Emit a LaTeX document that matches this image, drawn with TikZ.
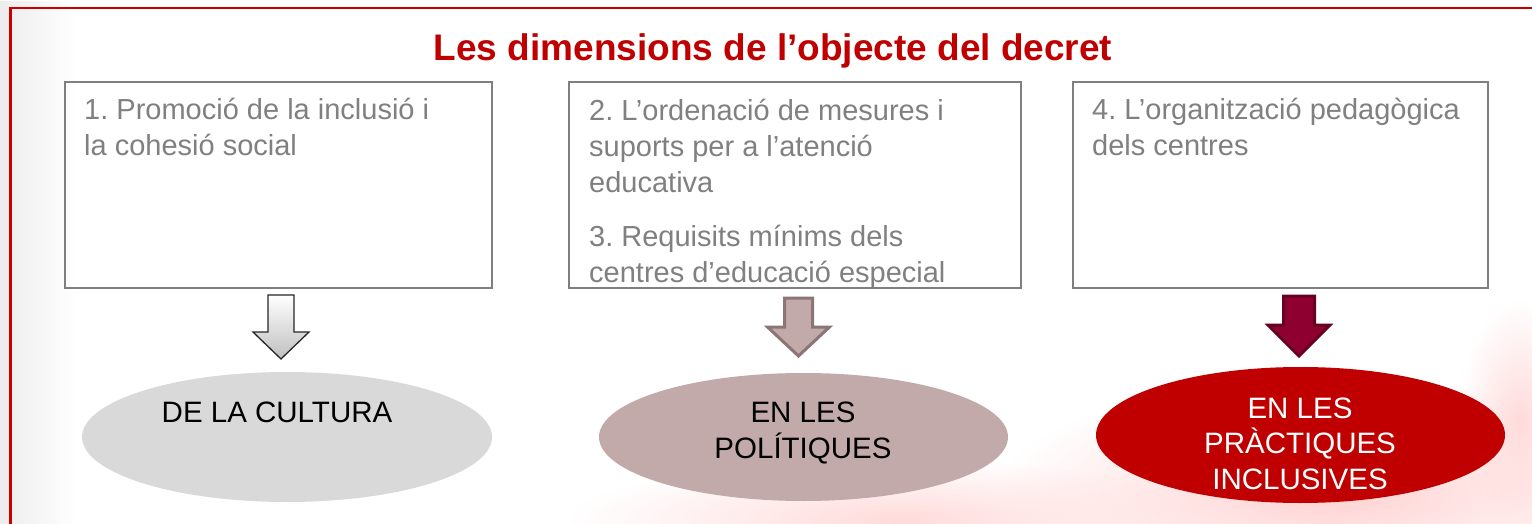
\documentclass[tikz,border=0pt]{standalone}
\usepackage{fontspec}
\setmainfont{Liberation Sans}
\usetikzlibrary{shapes.geometric,fadings}
\definecolor{tred}{HTML}{C00000}
\definecolor{framered}{HTML}{CC0000}
\definecolor{boxgray}{HTML}{7F7F7F}
\definecolor{txtgray}{HTML}{808080}
\definecolor{rose}{HTML}{C2A9AA}
\definecolor{rosedark}{HTML}{8C7576}
\definecolor{crim}{HTML}{8E0030}
\definecolor{crimdark}{HTML}{680022}
\definecolor{ellgray}{HTML}{D9D9D9}
\tikzfading[name=softout, inner color=transparent!0, outer color=transparent!100]
\newcommand\blockarrow[7]{%
  \path[#1] (#2-#4,#3) -- (#2+#4,#3) -- (#2+#4,#6) -- (#2+#5,#6) -- (#2,#7)
    -- (#2-#5,#6) -- (#2-#4,#6) -- cycle;}
\frenchspacing
\begin{document}
\begin{tikzpicture}[x=1pt,y=-1pt,
  dimbox/.style={draw=boxgray, line width=2pt, inner sep=0pt, minimum height=206pt},
  boxtext/.style={anchor=base west, inner sep=0pt, text=txtgray, align=left,
    font=\fontsize{29}{36}\selectfont},
  dimell/.style={ellipse, inner sep=0pt, draw=none},
  elltext/.style={anchor=base, inner sep=0pt, align=center,
    font=\fontsize{29.5}{35.5}\selectfont},
  titletext/.style={anchor=base, inner sep=0pt, text=tred,
    font=\fontsize{37}{44}\selectfont\bfseries}]
\useasboundingbox (0,0) rectangle (1532,524);
% background
\fill[white] (0,0) rectangle (1532,524);
\fill[gray!14, path fading=east] (0,0) rectangle (75,524);
\fill[red!18, path fading=softout] (1330,490) ellipse (330 and 110);
\fill[red!14, path fading=softout] (900,520) ellipse (330 and 60);
\fill[red!14, path fading=softout] (1520,420) ellipse (60 and 120);
% frame
\draw[framered, line width=2.5pt] (10.5,524) -- (10.5,8) -- (1532,8);
% title
\node[titletext] (title) at (773,61) {Les dimensions de l’objecte del decret};
% boxes
\node[dimbox, minimum width=427pt] (b1) at (278.5,185) {};
\node[dimbox, minimum width=452pt] (b2) at (795,185) {};
\node[dimbox, minimum width=415pt] (b3) at (1280.5,185) {};
% (multi-line texts are placed by the baseline of their last line)
\node[boxtext] (t1) at (84,156) {1. Promoció de la inclusió i\\la cohesió social};
\node[boxtext] (t2) at (589,282) {2. L’ordenació de mesures i\\suports per a l’atenció\\educativa\\[18pt]3. Requisits mínims dels\\centres d’educació especial};
\node[boxtext] (t3) at (1092,156) {4. L’organització pedagògica\\dels centres};
% ellipses
\node[dimell, fill=ellgray, minimum width=410pt, minimum height=130pt] (e1) at (287,437) {};
\node[dimell, fill=rose, minimum width=409pt, minimum height=128pt] (e2) at (803.5,437) {};
\node[dimell, fill=tred, minimum width=409pt, minimum height=136pt] (e3) at (1300.5,435) {};
\node[elltext] (l1) at (277,422) {DE LA CULTURA};
\node[elltext] (l2) at (803,458) {EN LES\\POLÍTIQUES};
\node[elltext, text=white] (l3) at (1300,489) {EN LES\\PRÀCTIQUES\\INCLUSIVES};
% arrows
\blockarrow{top color=white, bottom color=gray!50, draw=black!85, line width=1.3pt, line join=miter}{281}{295}{13}{28}{332}{359}
\blockarrow{fill=rose, draw=rosedark, line width=3pt, line join=miter}{798.5}{298}{14}{31}{327}{356}
\blockarrow{fill=crim, draw=crimdark, line width=3pt, line join=miter}{1299}{296}{15.5}{31}{325}{356}
\end{tikzpicture}
\end{document}
